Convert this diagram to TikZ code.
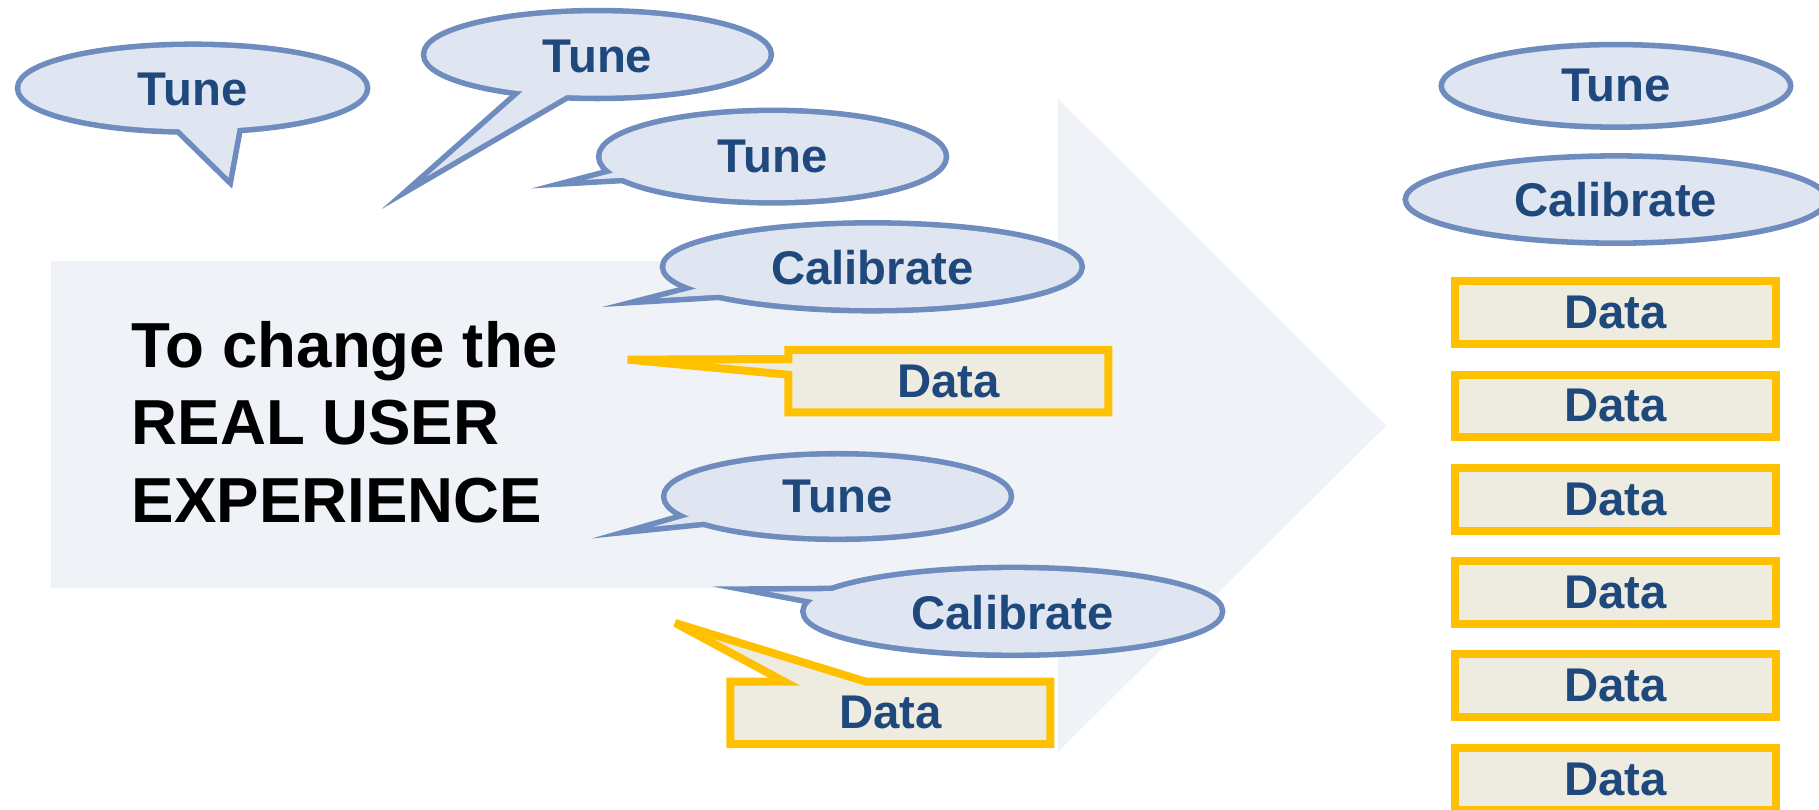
\documentclass[tikz,border=0pt]{standalone}
\usepackage{fontspec}
\setmainfont{Liberation Sans}
\usetikzlibrary{shapes.geometric}
\definecolor{bgarrow}{RGB}{239,243,248}
\definecolor{bubfill}{RGB}{223,230,241}
\definecolor{bubline}{RGB}{111,140,190}
\definecolor{txtblue}{RGB}{31,73,125}
\definecolor{boxyel}{RGB}{255,192,0}
\definecolor{boxfill}{RGB}{238,236,225}
\tikzset{
  bubstroke/.style={draw=bubline, line width=6.8pt, line join=miter, miter limit=25},
  bubfl/.style={fill=bubfill},
  lbl/.style={font=\bfseries\fontsize{29}{34}\selectfont, text=txtblue, inner sep=0pt},
  mtxt/.style={font=\bfseries\fontsize{39}{46}\selectfont, text=black, inner sep=0pt, anchor=base west},
  boxoutline/.style={draw=boxyel, fill=boxfill, line width=4.89pt, line join=miter},
  databox/.style={lbl, draw=boxyel, fill=boxfill, line width=4.89pt, minimum width=6.9cm, minimum height=1.35cm},
  plainbub/.style={lbl, ellipse, draw=bubline, fill=bubfill, line width=3.4pt},
}
\begin{document}
\begin{tikzpicture}[x=0.025cm, y=-0.025cm]
\useasboundingbox (0,0) rectangle (1568,698);
\clip (0,0) rectangle (1568,698);
% background arrow
\fill[bgarrow] (44,225) -- (912,225) -- (912,85) -- (1195,367) -- (912,648) -- (912,507) -- (44,507) -- cycle;

% bubble 1
\draw[bubstroke] (166,76) ellipse [x radius=148.5, y radius=35.5];
\draw[bubstroke] (197,153) -- (147,104) -- (206,104) -- cycle;
\fill[bubfl] (166,76) ellipse [x radius=148.5, y radius=35.5];
\fill[bubfl] (197,153) -- (147,104) -- (206,104) -- cycle;
\node[lbl] (b1) at (166,77) {Tune};

% bubble 2
\draw[bubstroke] (515,47) ellipse [x radius=147.5, y radius=35.5];
\draw[bubstroke] (368,152) -- (456,74) -- (495,78) -- cycle;
\fill[bubfl] (515,47) ellipse [x radius=147.5, y radius=35.5];
\fill[bubfl] (368,152) -- (456,74) -- (495,78) -- cycle;
\node[lbl] (b2) at (515,49) {Tune};

% bubble 3
\draw[bubstroke] (666,135) ellipse [x radius=147.5, y radius=37.5];
\draw[bubstroke] (505,155) -- (543,145) -- (559,152) -- cycle;
\fill[bubfl] (666,135) ellipse [x radius=147.5, y radius=37.5];
\fill[bubfl] (505,155) -- (543,145) -- (559,152) -- cycle;
\node[lbl] (b3) at (666,135) {Tune};

% bubble 4
\draw[bubstroke] (752,230) ellipse [x radius=178.5, y radius=35.5];
\draw[bubstroke] (568,257) -- (605,247.5) -- (636,253) -- cycle;
\fill[bubfl] (752,230) ellipse [x radius=178.5, y radius=35.5];
\fill[bubfl] (568,257) -- (605,247.5) -- (636,253) -- cycle;
\node[lbl] (b4) at (752,231) {Calibrate};

% data box 1
\draw[boxoutline] (679.5,301.5) -- (955.5,301.5) -- (955.5,355.5) -- (679.5,355.5) -- (679.5,323) -- (541,310) -- (679.5,309.5) -- cycle;
\node[lbl] (d1) at (817.5,328.5) {Data};

% main text
\node[mtxt] (m1) at (113.3,317) {To change the};
\node[mtxt] (m2) at (113.3,383.5) {REAL USER};
\node[mtxt] (m3) at (113.3,450) {EXPERIENCE};

% bubble 5
\draw[bubstroke] (722,428) ellipse [x radius=147.5, y radius=34.5];
\draw[bubstroke] (563,454) -- (601.5,443) -- (632.6,447) -- cycle;
\fill[bubfl] (722,428) ellipse [x radius=147.5, y radius=34.5];
\fill[bubfl] (563,454) -- (601.5,443) -- (632.6,447) -- cycle;
\node[lbl] (b5) at (722,428) {Tune};

% bubble 6
\draw[bubstroke] (873,527) ellipse [x radius=178.5, y radius=35.5];
\draw[bubstroke] (663,510) -- (730.7,509.5) -- (714.8,519.8) -- cycle;
\fill[bubfl] (873,527) ellipse [x radius=178.5, y radius=35.5];
\fill[bubfl] (663,510) -- (730.7,509.5) -- (714.8,519.8) -- cycle;
\node[lbl] (b6) at (873,528) {Calibrate};

% data box 2
\draw[boxoutline] (629.5,587.5) -- (676,587.5) -- (582,537) -- (746,587.5) -- (905.5,587.5) -- (905.5,641.5) -- (629.5,641.5) -- cycle;
\node[lbl] (d2) at (767.5,614.5) {Data};

% right column
\node[plainbub, minimum width=7.53cm, minimum height=1.78cm] (rt) at (1393,74) {Tune};
\node[plainbub, minimum width=9.08cm, minimum height=1.88cm] (rc) at (1393,172) {Calibrate};
\node[databox] (r1) at (1392.5,269.5) {Data};
\node[databox] (r2) at (1392.5,349.9) {Data};
\node[databox] (r3) at (1392.5,430.3) {Data};
\node[databox] (r4) at (1392.5,510.7) {Data};
\node[databox] (r5) at (1392.5,591.1) {Data};
\node[databox] (r6) at (1392.5,671.5) {Data};
\end{tikzpicture}
\end{document}
